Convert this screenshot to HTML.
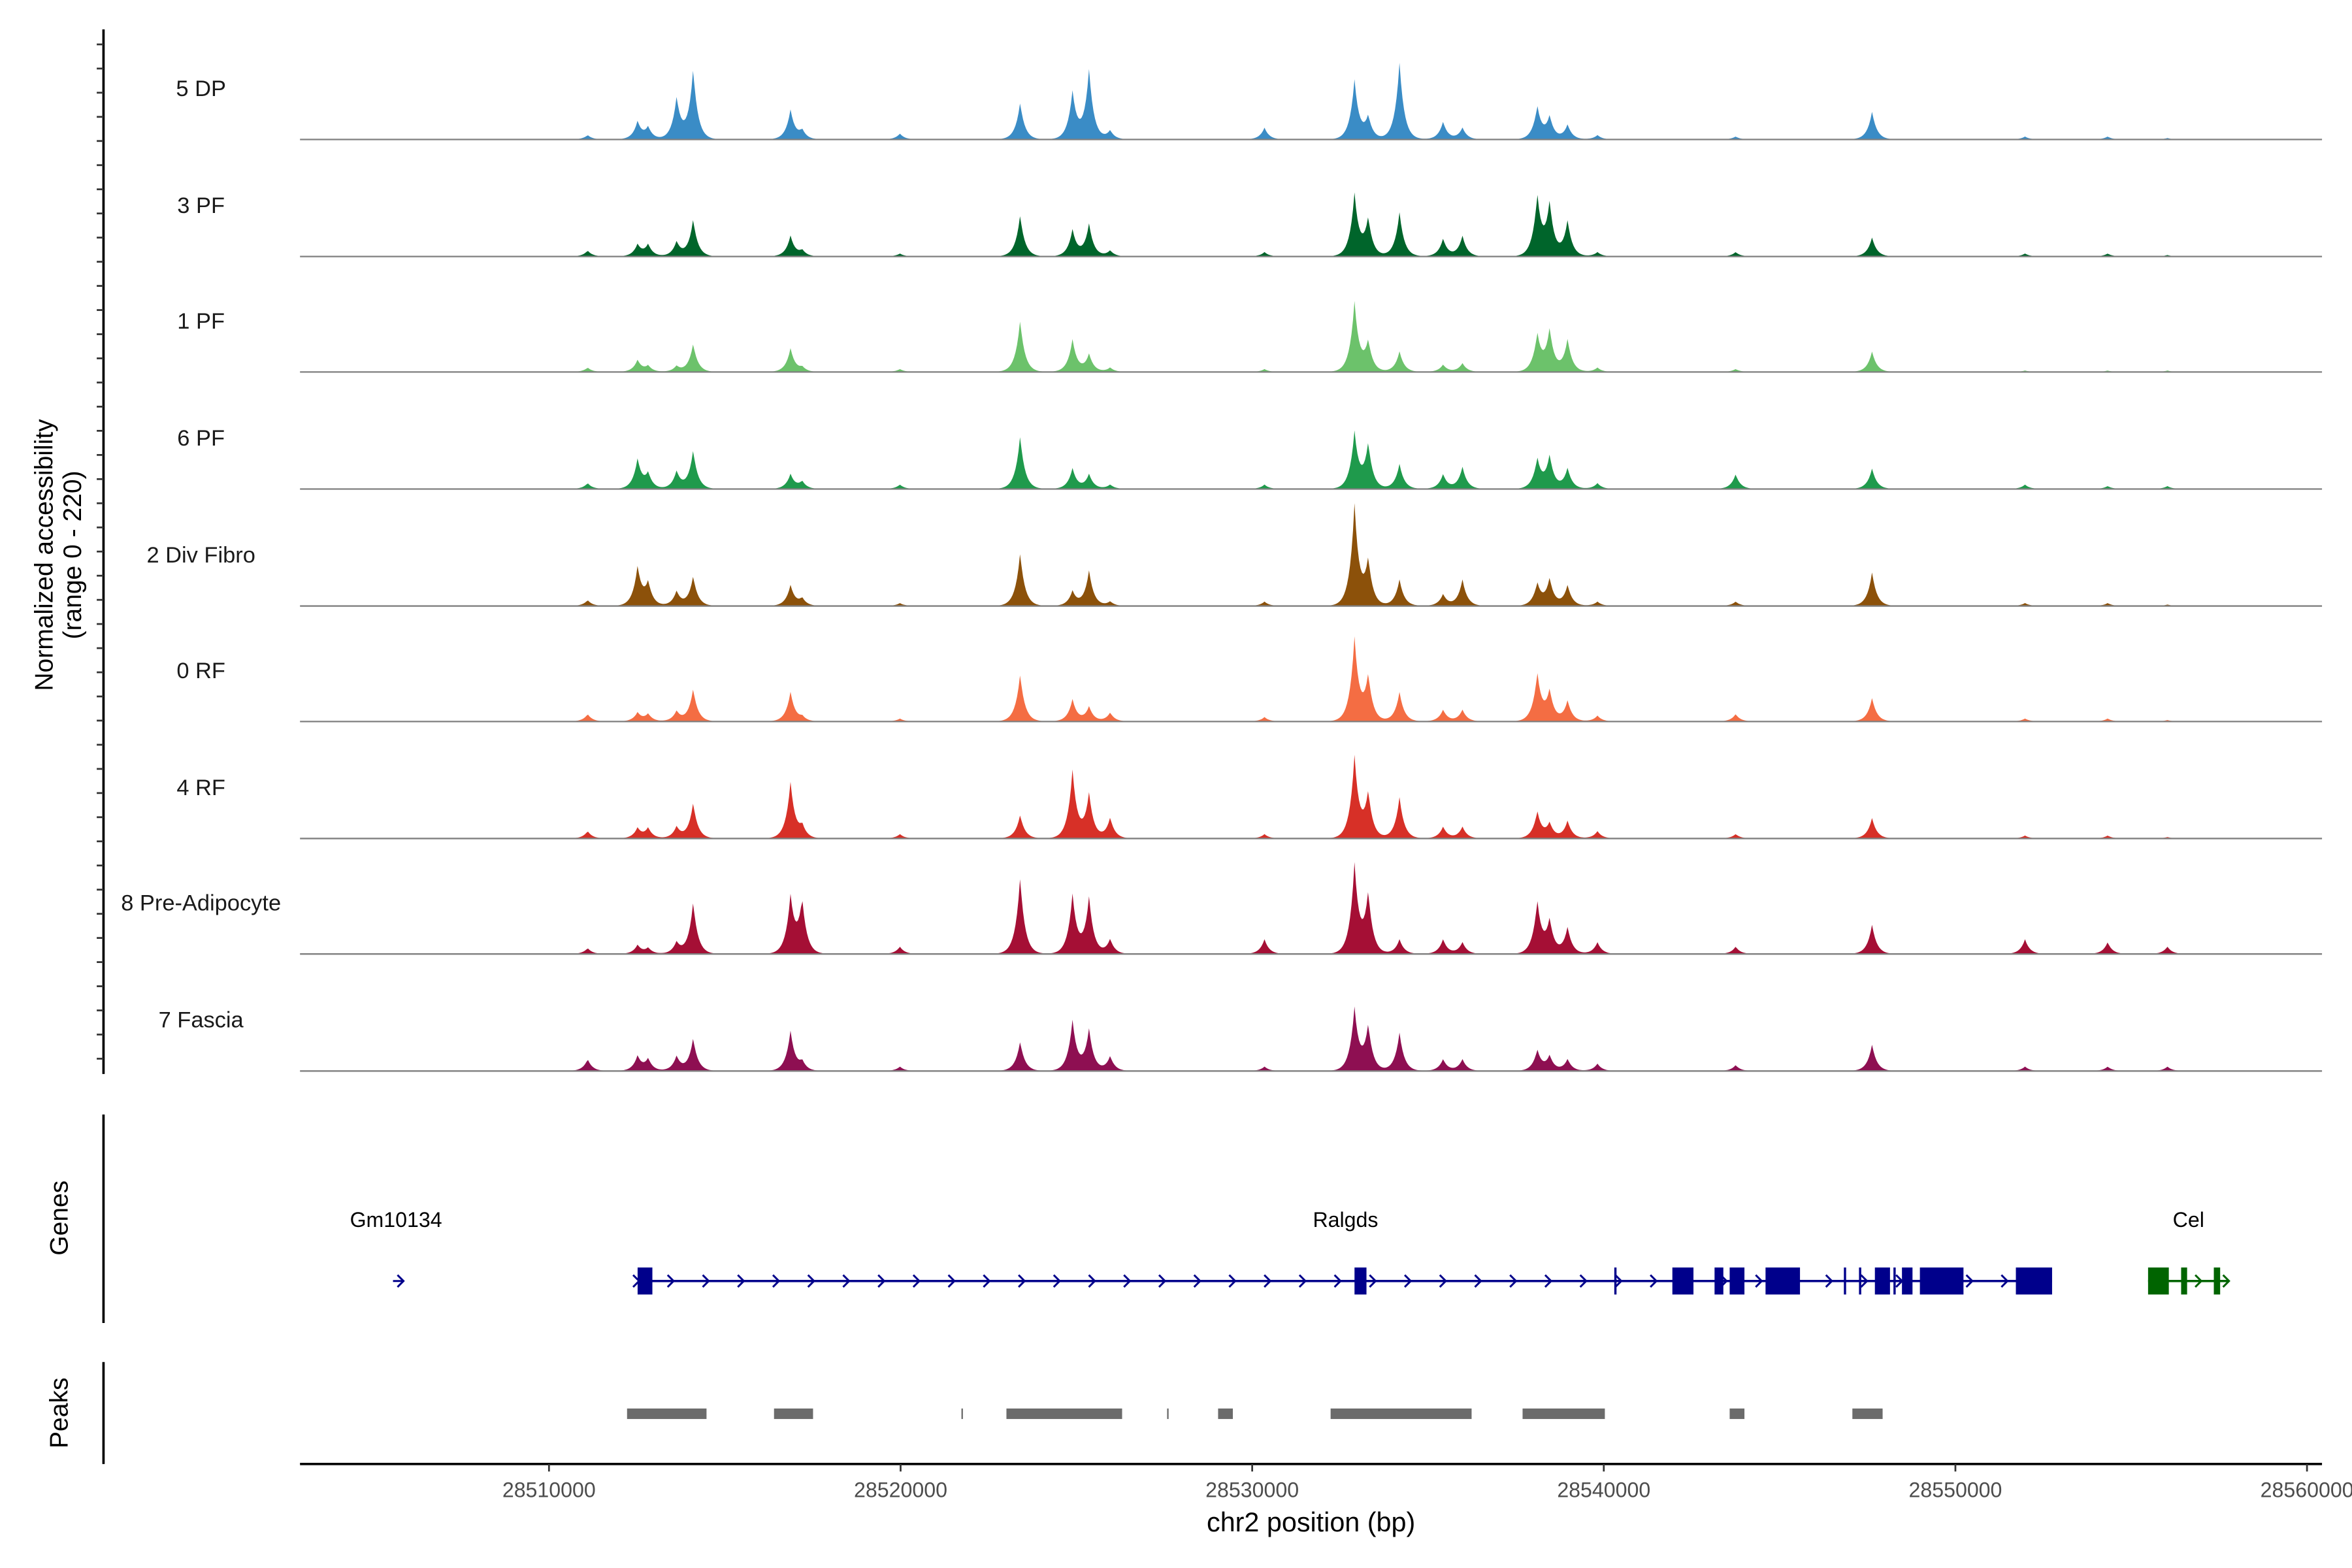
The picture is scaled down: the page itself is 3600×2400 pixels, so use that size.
<!DOCTYPE html>
<html><head><meta charset="utf-8"><style>
html,body{margin:0;padding:0;background:#fff;}
svg{display:block;}
text{font-family:"Liberation Sans",Arial,sans-serif;}
</style></head><body>
<svg id="chart" xmlns="http://www.w3.org/2000/svg" width="3600" height="2400" viewBox="0 0 1568 1045.33">
<rect width="1568" height="1046" fill="#fff"/>
<g id="tracks"></g>
<g id="left-axis"></g>
<text transform="translate(35,370) rotate(-90)" text-anchor="middle" font-size="17">Normalized accessibility</text>
<text transform="translate(54,370) rotate(-90)" text-anchor="middle" font-size="17">(range 0 - 220)</text>
<line x1="69" y1="743" x2="69" y2="882" stroke="#000" stroke-width="1.6"/>
<text transform="translate(45,812) rotate(-90)" text-anchor="middle" font-size="17">Genes</text>
<line x1="69" y1="908" x2="69" y2="976" stroke="#000" stroke-width="1.6"/>
<text transform="translate(45,942) rotate(-90)" text-anchor="middle" font-size="17">Peaks</text>
<g id="genes"></g>
<g id="peaks"></g>
<g id="xaxis"></g>
<text x="874" y="1021" text-anchor="middle" font-size="18">chr2 position (bp)</text>
</svg>
<script>
// ---- data (positions in kb offset from 28,500,000) ----
const trackNames = ["5 DP","3 PF","1 PF","6 PF","2 Div Fibro","0 RF","4 RF","8 Pre-Adipocyte","7 Fascia"];
const trackColors = ["#3a8cc6","#00652b","#6cc26b","#1f9a4c","#8c510a","#f46d43","#d73027","#a50f35","#8e0f52"];
const peakPos = [11.1,12.52,12.82,13.63,14.10,16.87,17.2,19.98,23.40,24.89,25.36,25.96,30.35,32.91,33.3,34.19,35.43,35.98,38.11,38.46,38.97,39.82,43.75,47.63,51.98,54.33,56.03];
const sDP   = [3,12,8,28,47,20,6,4,25,32,47,6,8,40,15,52,12,8,22,15,10,3,2,19,2,2,1];
const sPF3  = [4,8,8,10,25,14,4,2,28,18,22,4,3,42,25,30,12,14,40,35,24,3,3,13,2,2,1];
const sPF1  = [3,8,4,4,19,16,3,2,35,22,12,3,2,47,20,14,5,6,25,28,22,3,2,14,1,1,1];
const sPF6  = [4,20,10,12,26,10,5,3,36,14,10,3,3,38,30,17,10,15,20,22,14,4,10,14,3,2,2];
const sDiv  = [4,26,15,10,20,14,5,2,36,10,24,3,3,68,30,18,8,18,15,18,14,3,3,23,2,2,1];
const sRF0  = [5,6,5,7,22,20,3,2,32,15,10,6,3,56,30,20,8,8,32,20,14,4,5,16,2,2,1];
const sRF4  = [5,7,7,8,24,38,8,3,16,46,30,14,3,55,30,28,8,8,18,10,12,5,3,14,2,2,1];
const sPre  = [4,6,4,8,35,38,35,5,52,40,38,10,10,60,40,10,10,8,35,22,18,8,5,20,10,8,5];
const sFas  = [8,10,8,10,22,27,6,3,20,34,28,10,3,42,30,26,8,8,14,10,8,5,4,18,3,3,3];
const trackSignals = [sDP,sPF3,sPF1,sPF6,sDiv,sRF0,sRF4,sPre,sFas];
const xTicks = [10,20,30,40,50,60];
const xTickLabels = ["28510000","28520000","28530000","28540000","28550000","28560000"];
const peakStart = [12.22,16.40,21.73,23.01,27.58,29.03,32.23,37.69,43.58,47.07];
const peakEnd   = [14.48,17.51,21.77,26.30,27.62,29.45,36.24,40.03,44.00,47.93];
const ralgdsStart = 12.52, ralgdsEnd = 52.75;
const ralgdsExonStart = [12.52,32.91,41.95,43.15,43.58,44.60,47.71,48.48,48.99,51.72];
const ralgdsExonEnd   = [12.94,33.25,42.55,43.40,44.00,45.58,48.14,48.78,50.23,52.75];
const ralgdsIntronMarks = [40.33,46.86,47.29,48.27];
const celStart = 55.48, celEnd = 57.74;
const celExonStart = [55.48,56.42,57.35];
const celExonEnd   = [56.07,56.59,57.53];

// ---- scales ----
const X0 = 366, PXKB = 23.44;
function xs(kb){ return X0 + (kb-10)*PXKB; }
const YMAX = 76, TRACK_H = 75;
const baselines = [93,171,248,326,404,481,559,636,714];
function ys(v, base){ return base - v/YMAX*TRACK_H; }

const NS = "http://www.w3.org/2000/svg";
function mk(tag, attrs, parent){ const e=document.createElementNS(NS,tag); for(const k in attrs) e.setAttribute(k,attrs[k]); parent.appendChild(e); return e; }

// ---- tracks ----
const gT = document.getElementById("tracks");
trackNames.forEach((name,ti)=>{
  const base = baselines[ti];
  const g = mk("g",{},gT);
  
  
  const lab = mk("text",{x:134,y:base-29,"text-anchor":"middle","font-size":15,fill:"#1a1a1a"},g);
  lab.textContent = name;
  
  
  const sig = trackSignals[ti];
  let d = "M200," + base;
  for(let px=200; px<=1548; px+=1){
    let v = 0;
    for(let i=0;i<peakPos.length;i++){
      const dx = Math.abs(px - xs(peakPos[i]));
      if(dx<30) v += sig[i]*Math.exp(-dx/3.2);
    }
    v = Math.min(v, YMAX);
    d += " L" + px + "," + ys(v,base).toFixed(2);
  }
  d += " L1548," + base + " Z";
  const p = mk("path",{d:d,fill:trackColors[ti]},g);
  
  
  const bl = mk("line",{x1:200,x2:1548,y1:base,y2:base,stroke:"#7f7f7f","stroke-width":1},g);
  
  
});

// ---- left axis ----
const gA = document.getElementById("left-axis");
mk("line",{x1:69,y1:19.6,x2:69,y2:716,stroke:"#000","stroke-width":1.6},gA);
for(let y=29.6; y<716; y+=16.1){ mk("line",{x1:64.5,x2:69,y1:y,y2:y,stroke:"#333","stroke-width":1.2},gA); }

// ---- genes ----
const gG = document.getElementById("genes");
const gy = 854, blue="#00008b", green="#006400";
function chev(x,col,parent){ mk("path",{d:`M${x-3},${gy-4} L${x+1},${gy} L${x-3},${gy+4}`,stroke:col,fill:"none","stroke-width":1.3},parent); }
const gm = mk("g",{},gG);


chev(268,blue,gm); mk("line",{x1:262,x2:269,y1:gy,y2:gy,stroke:blue,"stroke-width":1.3},gm);
mk("text",{x:264,y:818,"text-anchor":"middle","font-size":14},gm).textContent="Gm10134";
const ra = mk("g",{},gG);


mk("line",{x1:xs(ralgdsStart),x2:xs(ralgdsEnd),y1:gy,y2:gy,stroke:blue,"stroke-width":1.5},ra);
chev(xs(ralgdsStart),blue,ra);
for(let x=xs(ralgdsStart)+23; x<xs(ralgdsEnd); x+=23.4) chev(x,blue,ra);
ralgdsExonStart.forEach((s,i)=>{ mk("rect",{x:xs(s),y:gy-9,width:xs(ralgdsExonEnd[i])-xs(s),height:18,fill:blue},ra); });
ralgdsIntronMarks.forEach(k=>{ mk("line",{x1:xs(k),x2:xs(k),y1:gy-9,y2:gy+9,stroke:blue,"stroke-width":1.5},ra); });
mk("text",{x:897,y:818,"text-anchor":"middle","font-size":14},ra).textContent="Ralgds";
const ce = mk("g",{},gG);


mk("line",{x1:xs(celStart),x2:xs(celEnd),y1:gy,y2:gy,stroke:green,"stroke-width":1.5},ce);
celExonStart.forEach((s,i)=>{ mk("rect",{x:xs(s),y:gy-9,width:xs(celExonEnd[i])-xs(s),height:18,fill:green},ce); });
chev(xs(56.95),green,ce); chev(xs(57.74),green,ce);
mk("text",{x:1459,y:818,"text-anchor":"middle","font-size":14},ce).textContent="Cel";

// ---- peaks ----
const gP = document.getElementById("peaks");
peakStart.forEach((s,i)=>{
  const r = mk("rect",{x:xs(s),y:939,width:Math.max(1,xs(peakEnd[i])-xs(s)),height:7,fill:"#6b6b6b"},gP);
  
  
});

// ---- x axis ----
const gX = document.getElementById("xaxis");
mk("line",{x1:200,x2:1548,y1:976,y2:976,stroke:"#000","stroke-width":1.6},gX);
xTicks.forEach((k,i)=>{
  const x = xs(k);
  mk("line",{x1:x,x2:x,y1:976,y2:981,stroke:"#333","stroke-width":1.2},gX);
  const t = mk("text",{x:x,y:998,"text-anchor":"middle","font-size":14,fill:"#4d4d4d"},gX);
  t.textContent = xTickLabels[i];
  
  
});
</script>
</body></html>
